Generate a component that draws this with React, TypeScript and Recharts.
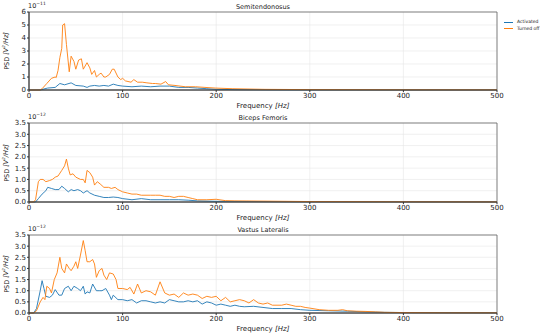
import React from "react";
import { LineChart, Line, XAxis, YAxis, CartesianGrid, ReferenceArea } from "recharts";

// Semitendonosus (x 1e-11)
const semiActFreq = [0, 12, 16, 20, 28, 33, 38, 45, 50, 58, 62, 65, 70, 75, 80, 85, 90, 95, 100, 110, 120, 130, 140, 150, 160, 170, 180, 190, 200, 220, 250, 300, 400, 500];
const semiAct = [0, 0, 0.08, 0.15, 0.2, 0.5, 0.4, 0.55, 0.35, 0.3, 0.2, 0.3, 0.35, 0.3, 0.35, 0.3, 0.45, 0.35, 0.3, 0.25, 0.3, 0.25, 0.3, 0.3, 0.2, 0.2, 0.15, 0.1, 0.05, 0.03, 0.02, 0.01, 0.006, 0.005];
const semiOffFreq = [0, 12, 14, 19, 24, 28, 29, 31, 33, 35, 36, 38, 40, 43, 45, 48, 50, 53, 56, 58, 62, 65, 67, 70, 72, 75, 77, 80, 82, 86, 89, 91, 95, 98, 100, 103, 109, 112, 116, 121, 126, 132, 135, 141, 146, 149, 156, 167, 178, 188, 199, 217, 252, 300, 400, 500];
const semiOff = [0, 0, 0.1, 0.5, 0.9, 1.0, 0.95, 1.5, 2.5, 3.2, 5.0, 5.1, 3.5, 1.4, 2.6, 2.2, 1.6, 2.3, 2.4, 1.6, 2.1, 1.7, 1.2, 1.5, 1.0, 1.2, 1.3, 1.0, 1.0, 1.2, 1.6, 1.6, 1.0, 0.8, 0.9, 0.7, 0.6, 0.8, 0.6, 0.6, 0.55, 0.5, 0.5, 0.45, 0.65, 0.4, 0.35, 0.25, 0.25, 0.2, 0.15, 0.1, 0.05, 0.03, 0.015, 0.01];

// Biceps Femoris (x 1e-12)
const bicepsActFreq = [0, 7, 10, 14, 18, 20, 24, 28, 32, 35, 38, 42, 45, 48, 52, 55, 58, 62, 65, 70, 75, 80, 85, 90, 95, 100, 110, 120, 130, 140, 150, 160, 170, 180, 200, 250, 300, 500];
const bicepsAct = [0, 0, 0.15, 0.35, 0.5, 0.65, 0.6, 0.55, 0.55, 0.7, 0.6, 0.45, 0.55, 0.5, 0.55, 0.5, 0.4, 0.5, 0.4, 0.3, 0.25, 0.2, 0.2, 0.22, 0.2, 0.15, 0.1, 0.15, 0.1, 0.1, 0.1, 0.1, 0.08, 0.05, 0.03, 0.02, 0.01, 0.005];
const bicepsOffFreq = [0, 5, 7, 10, 12, 15, 18, 22, 25, 28, 31, 35, 38, 40, 42, 44, 47, 50, 55, 58, 60, 62, 65, 68, 70, 73, 76, 80, 85, 88, 92, 95, 100, 105, 110, 115, 120, 125, 130, 135, 140, 145, 150, 155, 160, 165, 170, 175, 180, 190, 200, 210, 220, 250, 300, 400, 500];
const bicepsOff = [0, 0, 0.1, 0.9, 1.0, 1.0, 0.9, 0.95, 1.0, 1.1, 1.15, 1.4, 1.6, 1.9, 1.5, 1.2, 1.25, 1.1, 1.0, 1.0, 0.85, 1.4, 1.3, 1.1, 0.75, 0.9, 0.8, 0.65, 0.65, 0.6, 0.65, 0.55, 0.45, 0.4, 0.35, 0.35, 0.3, 0.3, 0.3, 0.3, 0.3, 0.25, 0.25, 0.2, 0.25, 0.25, 0.2, 0.15, 0.1, 0.1, 0.12, 0.06, 0.05, 0.04, 0.02, 0.01, 0.005];

// Vastus Lateralis (x 1e-12)
const vastusActFreq = [0, 5, 8, 12, 14, 16, 18, 22, 25, 28, 32, 35, 38, 42, 45, 48, 52, 55, 58, 60, 62, 65, 68, 72, 75, 78, 82, 86, 88, 90, 95, 100, 105, 110, 115, 120, 125, 130, 135, 140, 145, 150, 155, 160, 165, 170, 175, 180, 185, 190, 195, 200, 205, 210, 215, 220, 225, 230, 240, 250, 260, 270, 280, 290, 300, 320, 340, 360, 380, 400, 500];
const vastusAct = [0, 0, 0.2, 1.0, 1.45, 1.1, 0.75, 0.7, 0.8, 1.05, 0.8, 0.8, 1.1, 1.2, 1.0, 1.2, 1.1, 1.0, 1.2, 0.85, 0.95, 0.9, 1.3, 1.0, 1.0, 1.0, 1.1, 0.8, 0.6, 0.8, 0.6, 0.6, 0.55, 0.6, 0.45, 0.55, 0.55, 0.5, 0.45, 0.5, 0.45, 0.6, 0.55, 0.5, 0.5, 0.55, 0.5, 0.55, 0.4, 0.5, 0.45, 0.35, 0.4, 0.35, 0.3, 0.35, 0.3, 0.28, 0.3, 0.25, 0.2, 0.2, 0.2, 0.15, 0.12, 0.1, 0.08, 0.05, 0.03, 0.02, 0.01];
const vastusOffFreq = [0, 5, 8, 12, 15, 17, 19, 22, 24, 27, 30, 33, 35, 38, 40, 43, 45, 48, 50, 52, 55, 58, 60, 62, 65, 68, 70, 72, 75, 78, 80, 83, 86, 90, 93, 95, 100, 105, 108, 112, 116, 120, 125, 130, 135, 140, 145, 150, 155, 160, 165, 170, 175, 180, 185, 190, 195, 200, 205, 210, 215, 220, 225, 230, 235, 240, 245, 250, 255, 260, 270, 275, 280, 285, 290, 295, 300, 310, 320, 330, 335, 340, 350, 360, 370, 380, 400, 450, 500];
const vastusOff = [0, 0, 0.1, 0.5, 0.7, 0.6, 1.2, 1.1, 0.9, 1.5, 1.8, 2.5, 2.0, 1.8, 2.2, 2.0, 1.9, 2.1, 2.3, 2.0, 2.6, 3.25, 2.8, 2.3, 2.3, 2.4, 2.2, 1.6, 1.9, 2.0, 1.7, 1.5, 1.8, 1.75, 1.5, 1.1, 1.1, 1.05, 1.15, 0.85, 1.3, 0.9, 1.0, 0.95, 0.8, 1.4, 0.9, 0.8, 0.85, 0.7, 0.9, 0.8, 0.85, 0.8, 0.65, 0.75, 0.7, 0.75, 0.55, 0.7, 0.5, 0.55, 0.6, 0.55, 0.45, 0.6, 0.45, 0.4, 0.45, 0.35, 0.35, 0.4, 0.35, 0.3, 0.3, 0.25, 0.22, 0.15, 0.12, 0.12, 0.15, 0.1, 0.08, 0.07, 0.05, 0.03, 0.02, 0.01, 0.01];

const xTicks = [0, 100, 200, 300, 400, 500];
const semiTicks = [0, 1, 2, 3, 4, 5, 6];
const smallTicks = [0, 0.5, 1, 1.5, 2, 2.5, 3, 3.5];

const BLUE = "#1f77b4";
const ORANGE = "#ff7f0e";
const FONT = "DejaVu Sans";

const zip = (f: number[], v: number[]) => f.map((x, i) => ({ f: x, v: v[i] }));

type PanelProps = {
  top: number;
  height: number;
  marginTop: number;
  xHeight: number;
  title: string;
  exponent: string;
  yMax: number;
  yTicks: number[];
  fmt: (v: number) => string;
  act: { f: number; v: number }[];
  off: { f: number; v: number }[];
};

const Panel = (p: PanelProps) => {
  const plotTop = p.top + p.marginTop;
  const plotBottom = p.top + p.height - p.xHeight;
  const tickStyle = { fontSize: 7, fill: "#222", fontFamily: FONT };
  return (
    <>
      <div style={{ position: "absolute", left: 0, top: p.top }}>
        <LineChart width={550} height={p.height} margin={{ top: p.marginTop, right: 53, bottom: 0, left: 0 }}>
          <CartesianGrid stroke="#e6e6e6" strokeWidth={0.6} />
          <XAxis
            type="number"
            dataKey="f"
            domain={[0, 500]}
            ticks={xTicks}
            height={p.xHeight}
            tick={tickStyle}
            tickSize={2}
            tickMargin={1}
            stroke="#333"
            interval={0}
          />
          <YAxis
            type="number"
            domain={[0, p.yMax]}
            ticks={p.yTicks}
            width={29}
            tick={tickStyle}
            tickSize={2}
            tickMargin={1}
            tickFormatter={p.fmt}
            stroke="#333"
            interval={0}
          />
          <ReferenceArea x1={0} x2={500} y1={0} y2={p.yMax} fill="none" stroke="#666" strokeWidth={0.8} />
          <Line data={p.act} dataKey="v" stroke={BLUE} strokeWidth={0.9} dot={false} isAnimationActive={false} />
          <Line data={p.off} dataKey="v" stroke={ORANGE} strokeWidth={0.9} dot={false} isAnimationActive={false} />
        </LineChart>
      </div>
      <div style={{ position: "absolute", left: 0, width: 526, top: plotTop - 9, textAlign: "center", fontSize: 6.5, fontFamily: FONT, color: "#222" }}>
        {p.title}
      </div>
      <div style={{ position: "absolute", left: 28, top: plotTop - 9, fontSize: 6.5, fontFamily: FONT, color: "#222", lineHeight: 1 }}>
        10<span style={{ fontSize: 4.5, position: "relative", top: -3 }}>−{p.exponent}</span>
      </div>
      <div style={{ position: "absolute", left: 0, width: 526, top: plotBottom + 12, textAlign: "center", fontSize: 7, fontFamily: FONT, color: "#222" }}>
        Frequency <i>[Hz]</i>
      </div>
      <div
        style={{
          position: "absolute",
          left: 6,
          top: (plotTop + plotBottom) / 2,
          transform: "translate(-50%, -50%) rotate(-90deg)",
          whiteSpace: "nowrap",
          fontSize: 6.5,
          fontFamily: FONT,
          color: "#222",
        }}
      >
        PSD <i>[V<sup style={{ fontSize: 4 }}>2</sup>/Hz]</i>
      </div>
    </>
  );
};

const LegendBox = () => (
  <div style={{ position: "absolute", left: 504, top: 19, fontSize: 4.5, fontFamily: FONT, color: "#222", lineHeight: "6.5px" }}>
    <div style={{ display: "flex", alignItems: "center" }}>
      <span style={{ display: "inline-block", width: 9, height: 1, background: BLUE, marginRight: 4 }} />
      Activated
    </div>
    <div style={{ display: "flex", alignItems: "center" }}>
      <span style={{ display: "inline-block", width: 9, height: 1, background: ORANGE, marginRight: 4 }} />
      Turned off
    </div>
  </div>
);

const f1 = (v: number) => String(v);
const f2 = (v: number) => v.toFixed(1);

export default function App() {
  return (
    <div style={{ position: "absolute", left: 0, top: 0, width: 550, height: 335, background: "#fff", overflow: "hidden" }}>
      <Panel top={0} height={111} marginTop={12} xHeight={21} title="Semitendonosus" exponent="11" yMax={6} yTicks={semiTicks} fmt={f1} act={zip(semiActFreq, semiAct)} off={zip(semiOffFreq, semiOff)} />
      <Panel top={111} height={111} marginTop={12} xHeight={20} title="Biceps Femoris" exponent="12" yMax={3.5} yTicks={smallTicks} fmt={f2} act={zip(bicepsActFreq, bicepsAct)} off={zip(bicepsOffFreq, bicepsOff)} />
      <Panel top={222} height={113} marginTop={13} xHeight={22} title="Vastus Lateralis" exponent="12" yMax={3.5} yTicks={smallTicks} fmt={f2} act={zip(vastusActFreq, vastusAct)} off={zip(vastusOffFreq, vastusOff)} />
      <LegendBox />
    </div>
  );
}
